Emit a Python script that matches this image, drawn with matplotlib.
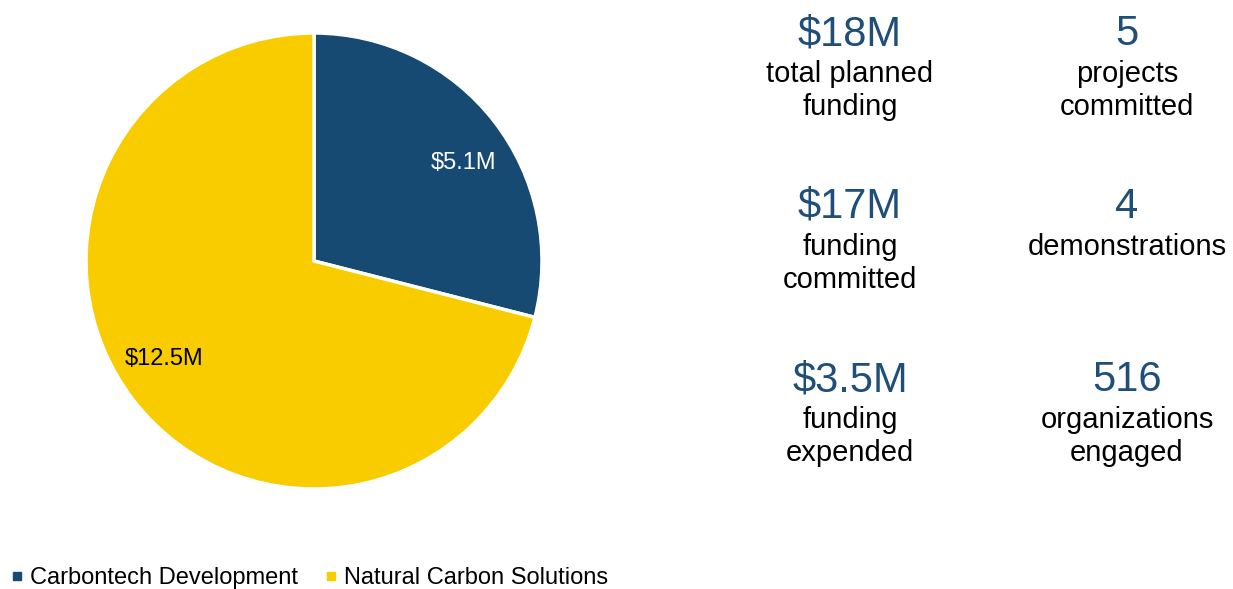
import matplotlib
matplotlib.use("Agg")
import numpy as np
import matplotlib.pyplot as plt
from matplotlib.lines import Line2D

plt.rcParams['font.family'] = ['Liberation Sans', 'DejaVu Sans']

# Funding split by program area ($M)
categories = ["Carbontech Development", "Natural Carbon Solutions"]
funding = [5.1, 12.5]
colors = ["#174A72", "#F9CC00"]
label_colors = ["white", "black"]

# Headline statistics (two columns, three rows)
stat_values = [["$18M", "5"], ["$17M", "4"], ["$3.5M", "516"]]
stat_labels = [["total planned\nfunding", "projects\ncommitted"],
               ["funding\ncommitted", "demonstrations"],
               ["funding\nexpended", "organizations\nengaged"]]

W, H = 1233, 589
fig = plt.figure(figsize=(W / 100, H / 100), dpi=100)

# Pie chart
cx, cy, r = 314, 261, 228
ax = fig.add_axes([(cx - r) / W, (H - cy - r) / H, 2 * r / W, 2 * r / H])
total = sum(funding)
wedges, texts, autotexts = ax.pie(
    funding, colors=colors, startangle=90, counterclock=False,
    autopct=lambda p: f"${p * total / 100:.1f}M", pctdistance=0.78,
    wedgeprops=dict(edgecolor="white", linewidth=2.5),
    textprops=dict(fontsize=17))
# value labels sit slightly clockwise of each wedge's middle
for w, t, c in zip(wedges, autotexts, label_colors):
    ang = np.deg2rad(0.5 * (w.theta1 + w.theta2) - 4.5)
    t.set_position((0.785 * np.cos(ang), 0.785 * np.sin(ang)))
    t.set_color(c)
ax.set_xlim(-1, 1)
ax.set_ylim(-1, 1)
ax.set_aspect("equal")
ax.axis("off")

# Statistics panel
col_x = [850, 1127]
row_base = [45, 218, 391]
value_color = "#1F4E79"
for i, row in enumerate(stat_values):
    for j, val in enumerate(row):
        x = col_x[j] / W
        y0 = row_base[i]
        fig.text(x, 1 - y0 / H, val, ha="center", va="baseline",
                 fontsize=30, color=value_color)
        for k, line in enumerate(stat_labels[i][j].split("\n")):
            yb = y0 + 37 + 33 * k
            fig.text(x, 1 - yb / H, line, ha="center", va="baseline",
                     fontsize=21, color="black")

# Legend
handles = [Line2D([], [], marker="s", linestyle="none", markersize=5.5,
                  markerfacecolor=c, markeredgecolor=c) for c in colors]
fig.legend(handles, categories, loc="center left", ncol=2,
           bbox_to_anchor=(4 / W, 1 - 578 / H), frameon=False, fontsize=17,
           handlelength=0.5, handletextpad=0.3, columnspacing=1.15,
           borderpad=0.2, borderaxespad=0.1)

fig.savefig("out.png", dpi=100)
